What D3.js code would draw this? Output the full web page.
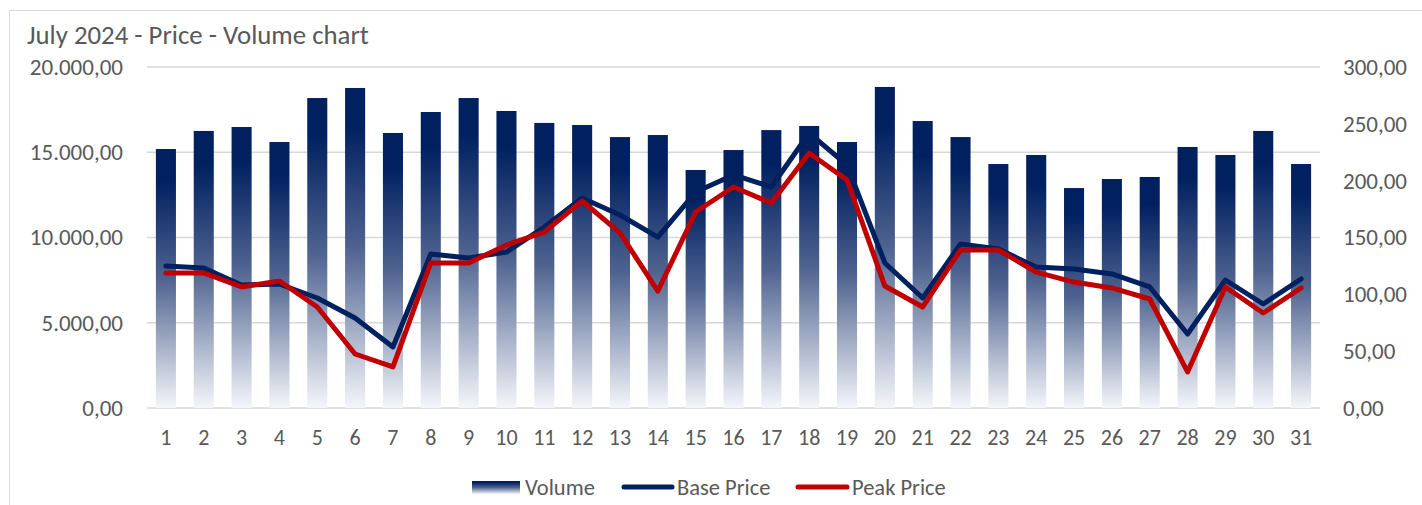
<!DOCTYPE html>
<html>
<head>
<meta charset="utf-8">
<script src="https://cdn.jsdelivr.net/npm/d3@7"></script>
<style>
  body { margin: 0; background: #fff; }
  svg text { font-family: Calibri, Carlito, Lato, sans-serif; fill: #595959; }
</style>
</head>
<body>
<div id="chart"></div>
<script>
// Days of July 2024
const days = d3.range(1, 32).map(String);

// Traded volume per day (left axis)
const volume = [15190, 16250, 16480, 15600, 18180, 18770, 16130, 17360, 18180, 17420,
                16720, 16600, 15890, 16010, 13960, 15130, 16300, 16540, 15600, 18830,
                16830, 15890, 14310, 14840, 12900, 13430, 13550, 15310, 14840, 16250, 14310];

// Base price per day (right axis)
const basePrice = [124.9, 123.2, 108.2, 109.1, 96.8, 79.2, 53.7, 135.5, 132.0, 137.2,
                   159.2, 184.8, 169.8, 150.4, 190.0, 205.0, 194.4, 241.9, 213.8, 127.6,
                   96.8, 144.3, 139.9, 124.0, 122.3, 117.9, 106.5, 65.1, 112.6, 91.5, 113.5];

// Peak price per day (right axis)
const peakPrice = [118.8, 118.8, 106.5, 111.7, 88.9, 47.5, 36.1, 127.6, 127.6, 143.4,
                   154.8, 182.1, 154.0, 102.9, 172.4, 194.4, 180.3, 224.3, 200.6, 107.3,
                   88.9, 139.0, 139.0, 119.6, 110.8, 105.6, 95.9, 31.7, 106.5, 83.6, 105.6];

const leftTicks = [0, 5000, 10000, 15000, 20000];
const rightTicks = [0, 50, 100, 150, 200, 250, 300];

const width = 1422, height = 505;
const margin = { top: 67, right: 102, bottom: 97, left: 147 };
const navy = "#002060", red = "#C00000";

// number format like 20.000,00
const fmt = d3.formatLocale({ decimal: ",", thousands: ".", grouping: [3], currency: ["", ""] }).format(",.2f");

const svg = d3.select("#chart").append("svg")
    .attr("width", width)
    .attr("height", height);

// chart area border (runs off the right and bottom edges)
svg.append("rect")
    .attr("x", 9.5).attr("y", 10.5)
    .attr("width", width).attr("height", height)
    .attr("fill", "none")
    .attr("stroke", "#d9d9d9");

// bar gradient, dark on top fading to white
const grad = svg.append("defs").append("linearGradient")
    .attr("id", "barGrad")
    .attr("x1", 0).attr("y1", 0).attr("x2", 0).attr("y2", 1);
grad.append("stop").attr("offset", "0").attr("stop-color", navy);
grad.append("stop").attr("offset", "0.12").attr("stop-color", navy);
grad.append("stop").attr("offset", "0.5").attr("stop-color", "#4f6390");
grad.append("stop").attr("offset", "1").attr("stop-color", "#f4f6fa");

const x = d3.scaleBand()
    .domain(days)
    .range([margin.left, width - margin.right])
    .paddingInner(0.47)
    .paddingOuter(0.235);

const yLeft = d3.scaleLinear().domain([0, 20000]).range([height - margin.bottom, margin.top]);
const yRight = d3.scaleLinear().domain([0, 300]).range([height - margin.bottom, margin.top]);

// gridlines
svg.append("g")
    .selectAll("line")
    .data(leftTicks)
    .join("line")
    .attr("x1", margin.left)
    .attr("x2", width - margin.right)
    .attr("y1", d => yLeft(d))
    .attr("y2", d => yLeft(d))
    .attr("stroke", "#d9d9d9")
    .attr("stroke-width", 1.4);

// left axis
const leftAxis = svg.append("g")
    .attr("transform", `translate(${margin.left - 24},0)`)
    .call(d3.axisLeft(yLeft).tickValues(leftTicks).tickFormat(fmt).tickSize(0).tickPadding(0));
leftAxis.select(".domain").remove();
leftAxis.selectAll("text").style("font-size", "23px").attr("fill", "#595959");

// right axis
const rightAxis = svg.append("g")
    .attr("transform", `translate(${width - margin.right + 23},0)`)
    .call(d3.axisRight(yRight).tickValues(rightTicks).tickFormat(fmt).tickSize(0).tickPadding(0));
rightAxis.select(".domain").remove();
rightAxis.selectAll("text").style("font-size", "23px").attr("fill", "#595959");

// bottom axis labels
const bottomAxis = svg.append("g")
    .attr("transform", `translate(0,${height - margin.bottom + 21})`)
    .call(d3.axisBottom(x).tickSize(0).tickPadding(0));
bottomAxis.select(".domain").remove();
bottomAxis.selectAll("text").style("font-size", "22px").attr("fill", "#595959");

// volume bars
svg.append("g")
    .selectAll("rect")
    .data(volume)
    .join("rect")
    .attr("x", (d, i) => x(days[i]))
    .attr("y", d => yLeft(d))
    .attr("width", x.bandwidth())
    .attr("height", d => yLeft(0) - yLeft(d))
    .attr("fill", "url(#barGrad)");

// price lines
const line = d3.line()
    .x((d, i) => x(days[i]) + x.bandwidth() / 2)
    .y(d => yRight(d));

svg.append("path")
    .datum(basePrice)
    .attr("d", line)
    .attr("fill", "none")
    .attr("stroke", navy)
    .attr("stroke-width", 5)
    .attr("stroke-linejoin", "round")
    .attr("stroke-linecap", "round");

svg.append("path")
    .datum(peakPrice)
    .attr("d", line)
    .attr("fill", "none")
    .attr("stroke", red)
    .attr("stroke-width", 5)
    .attr("stroke-linejoin", "round")
    .attr("stroke-linecap", "round");

// title
svg.append("text")
    .attr("x", 27)
    .attr("y", 44)
    .style("font-size", "26.8px")
    .text("July 2024 - Price - Volume chart");

// legend
const legend = svg.append("g").attr("transform", "translate(0,487)");

legend.append("rect")
    .attr("x", 472).attr("y", -6)
    .attr("width", 48).attr("height", 13)
    .attr("fill", "url(#barGrad)");
legend.append("text").attr("x", 525).attr("y", 8).style("font-size", "22.5px").text("Volume");

legend.append("line")
    .attr("x1", 624).attr("x2", 672).attr("y1", 0).attr("y2", 0)
    .attr("stroke", navy).attr("stroke-width", 5).attr("stroke-linecap", "round");
legend.append("text").attr("x", 677).attr("y", 8).style("font-size", "22.5px").text("Base Price");

legend.append("line")
    .attr("x1", 798).attr("x2", 847).attr("y1", 0).attr("y2", 0)
    .attr("stroke", red).attr("stroke-width", 5).attr("stroke-linecap", "round");
legend.append("text").attr("x", 852).attr("y", 8).style("font-size", "22.5px").text("Peak Price");
</script>
</body>
</html>
